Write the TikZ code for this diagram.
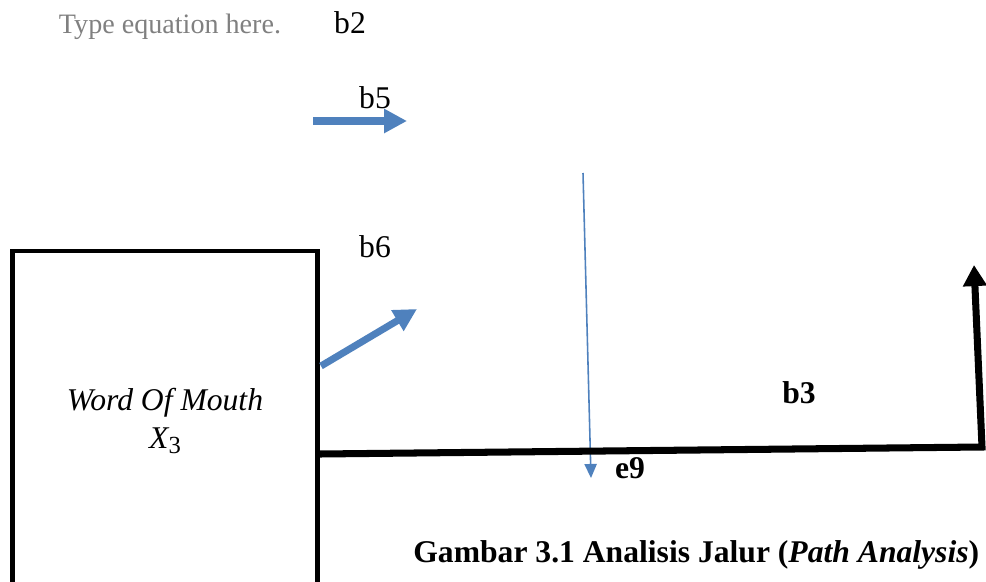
\documentclass[tikz,border=0pt]{standalone}
\usepackage{fontspec}
\setmainfont{Liberation Serif}
\usepackage{xcolor}
\definecolor{officeblue}{RGB}{79,129,189}
\definecolor{hintgray}{RGB}{128,128,128}
\usepackage{tikz}
\usetikzlibrary{arrows.meta, positioning}

\begin{document}
\begin{tikzpicture}[
        x=0.02cm, y=-0.02cm,
        lbl/.style={inner sep=0pt, font=\fontsize{18}{20}\selectfont},
        varbox/.style={rectangle, draw=black, line width=2.6pt, minimum width=6.1cm, minimum height=6.8cm, align=center, font=\fontsize{18}{22}\selectfont\itshape},
        blockarrow/.style={-{Triangle[width=13pt, length=13pt]}, line width=4pt, officeblue},
        thinarrow/.style={-{Triangle[width=7pt, length=8pt]}, line width=0.9pt, officeblue},
        patharrow/.style={-{Triangle[width=13pt, length=12pt]}, line width=4pt, black}
    ]
        \useasboundingbox (0,0) rectangle (986,581);

        \node[lbl, text=hintgray, font=\fontsize{16}{18}\selectfont] (hint) at (170,27) {Type equation here.};
        \node[lbl] (b2) at (350,23) {b2};
        \node[lbl] (b5) at (375,98) {b5};
        \node[lbl] (b6) at (375,247) {b6};
        \node[lbl, font=\fontsize{18}{20}\selectfont\bfseries] (b3) at (799,393) {b3};
        \node[lbl, font=\fontsize{18}{20}\selectfont\bfseries] (e9) at (630,468) {e9};

        \node[varbox] (wom) at (165,421) {Word Of Mouth\\\textit{X}\raisebox{-.35ex}{\upshape\fontsize{14}{14}\selectfont 3}};

        \coordinate (b5s) at (313,121);
        \coordinate (b5e) at (407,121);
        \coordinate (b6s) at (321,366);
        \coordinate (b6e) at (417,309);
        \coordinate (e9s) at (583,173);
        \coordinate (e9e) at (591,478);
        \coordinate (pths) at (320,454);
        \coordinate (pthc) at (982,447);
        \coordinate (pthe) at (974,265);

        \draw[blockarrow] (b5s) -- (b5e);
        \draw[blockarrow] (b6s) -- (b6e);
        \draw[thinarrow] (e9s) -- (e9e);
        \draw[patharrow] (pths) -- (pthc) -- (pthe);

        \node[lbl, anchor=base west, font=\fontsize{18}{20}\selectfont\bfseries] (caption) at (413,562) {Gambar 3.1 Analisis Jalur (\textit{Path Analysis})};
    \end{tikzpicture}
\end{document}
